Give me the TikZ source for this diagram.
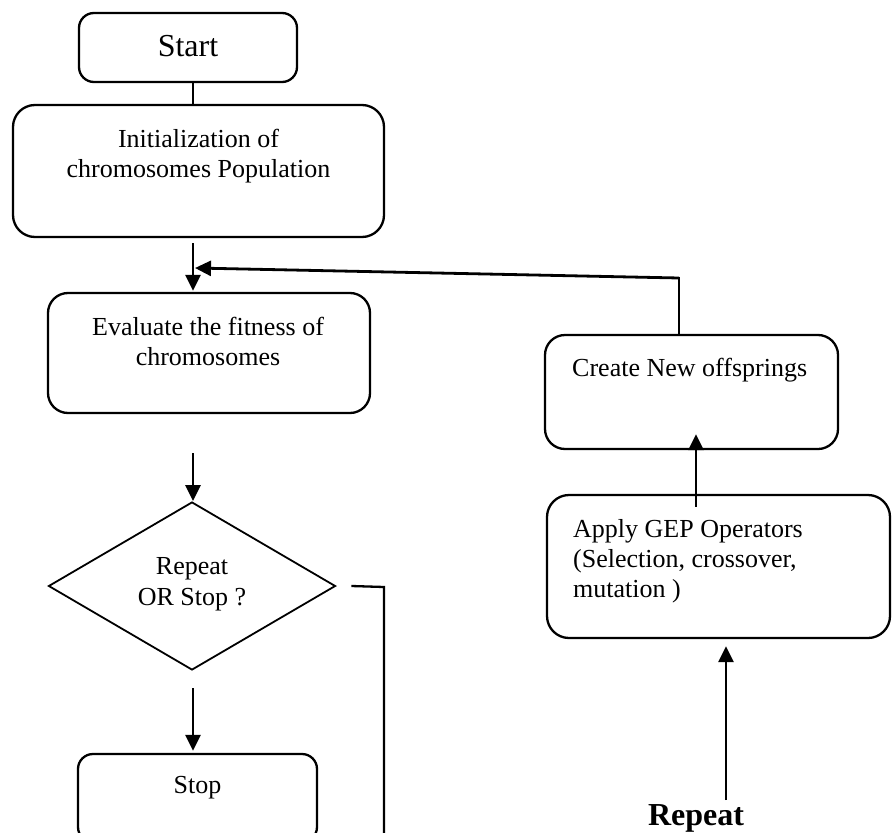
\documentclass[tikz,border=0pt]{standalone}
\usepackage{fontspec}
\setmainfont{Liberation Serif}
\usetikzlibrary{arrows.meta,shapes.geometric,calc}
\begin{document}
\begin{tikzpicture}[x=1pt,y=-1pt,
  box/.style={draw, line width=2.3pt, inner sep=0pt, rounded corners=#1},
  box/.default=20pt,
  dia/.style={draw, diamond, line width=1.8pt, inner sep=0pt},
  txt/.style={inner sep=0pt, anchor=base, font=\fontsize{26}{30}\selectfont},
  txtl/.style={txt, anchor=base west},
  arr/.style={line width=2.8pt, -{Triangle[length=16pt,width=15pt]}},
  ln/.style={line width=2.3pt}]
\useasboundingbox (0,0) rectangle (893,832);
% boxes
\node[box=15pt, minimum width=218pt, minimum height=69pt] (start) at (188,47.5) {};
\node[box=22pt, minimum width=371pt, minimum height=132pt] (init) at (198.5,171) {};
\node[box=20pt, minimum width=322pt, minimum height=120pt] (eval) at (209,353) {};
\node[dia, minimum width=287pt, minimum height=168pt] (dec) at (192,586) {};
\node[box=15pt, minimum width=239pt, minimum height=88pt] (stop) at (197.5,798) {};
\node[box=20pt, minimum width=293pt, minimum height=114pt] (create) at (691.5,392) {};
\node[box=22pt, minimum width=343pt, minimum height=143pt] (apply) at (718.5,566.5) {};
% texts
\node[txt, font=\fontsize{32}{36}\selectfont] (startt) at (188,57) {Start};
\node[txt] (init1) at (198.5,147) {Initialization of};
\node[txt] (init2) at (198.5,177) {chromosomes Population};
\node[txt] (eval1) at (208,335) {Evaluate the fitness of};
\node[txt] (eval2) at (208,365) {chromosomes};
\node[txt] (dec1) at (192,574) {Repeat};
\node[txt] (dec2) at (192,605) {OR Stop ?};
\node[txt] (stopt) at (197.5,793) {Stop};
\node[txtl] (createt) at (572,376) {Create New offsprings};
\node[txtl] (apply1) at (573,537) {Apply GEP Operators};
\node[txtl] (apply2) at (573,567) {(Selection, crossover,};
\node[txtl] (apply3) at (573,597) {mutation )};
\node[txt, font=\fontsize{32}{36}\selectfont\bfseries] (rep) at (696,825) {Repeat};
% connectors
\draw[ln] ($(start.south)+(5,0)$) -- ($(init.north)+(-5.5,0)$);
\draw[arr] ($(init.south)+(-5.5,5)$) -- ($(eval.north)+(-16,-1)$);
\coordinate (fbcorner) at (679,278);
\coordinate (fbtip) at (195,268);
\draw[ln, line cap=rect] (create.north -| fbcorner) -- (fbcorner);
\draw[arr] (fbcorner) -- (fbtip);
\coordinate (a2s) at (193,453);
\draw[arr] (a2s) -- (dec.north -| a2s);
\coordinate (a3s) at (193,688);
\draw[arr] (a3s) -- ($(stop.north -| a3s)+(0,-2)$);
\coordinate (r2) at (384,587);
\coordinate (r3) at (384,845);
\draw[ln] ($(dec.east)+(15,0)$) -- (r2) -- (r3);
\draw[arr] ($(apply.north)+(-22.5,13)$) -- ($(create.south)+(4.5,-16)$);
\coordinate (a5s) at (726,800);
\draw[arr] (a5s) -- ($(apply.south -| a5s)+(0,7)$);
\end{tikzpicture}
\end{document}
